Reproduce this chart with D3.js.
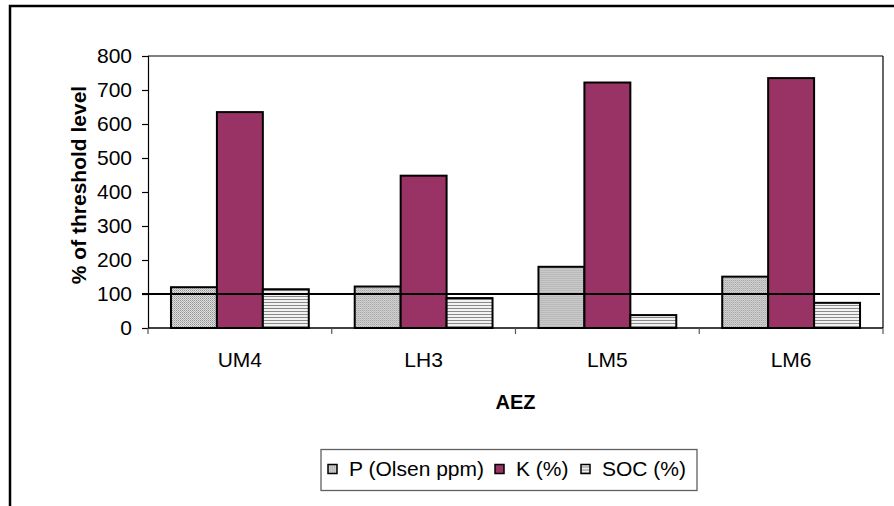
<!DOCTYPE html>
<html>
<head>
<meta charset="utf-8">
<script src="https://cdn.jsdelivr.net/npm/d3@7"></script>
<style>
  html, body { margin: 0; padding: 0; background: #fff; }
  svg { display: block; font-family: "Liberation Sans", Arial, sans-serif; }
</style>
</head>
<body>
<svg id="chart" width="894" height="506"></svg>
<script>
// Agro-ecological zones and nutrient levels as % of threshold
const categories = ["UM4", "LH3", "LM5", "LM6"];
const seriesNames = ["P (Olsen ppm)", "K (%)", "SOC (%)"];
const pValues = [120, 122, 180, 151];
const kValues = [635, 448, 722, 735];
const socValues = [114, 88, 38, 74];
const yTicks = [0, 100, 200, 300, 400, 500, 600, 700, 800];
const threshold = 100;

const seriesValues = [pValues, kValues, socValues];

const svg = d3.select("#chart");
const W = 894, H = 506;
const plot = { left: 148, right: 883, top: 56, bottom: 328 };
const FS = 21;

svg.append("rect").attr("width", W).attr("height", H).attr("fill", "#fff");

// Fill patterns
const defs = svg.append("defs");
const pPat = defs.append("pattern").attr("id", "patP")
  .attr("patternUnits", "userSpaceOnUse").attr("width", 2).attr("height", 2);
pPat.append("rect").attr("width", 2).attr("height", 2).attr("fill", "#dedede");
pPat.append("rect").attr("width", 1).attr("height", 1).attr("fill", "#939393");
pPat.append("rect").attr("x", 1).attr("y", 1).attr("width", 1).attr("height", 1).attr("fill", "#b4b4b4");

const sPat = defs.append("pattern").attr("id", "patS")
  .attr("patternUnits", "userSpaceOnUse").attr("width", 4).attr("height", 3);
sPat.append("rect").attr("width", 4).attr("height", 3).attr("fill", "#f2f2f2");
sPat.append("rect").attr("y", 2).attr("width", 4).attr("height", 1).attr("fill", "#8a8a8a");

const fills = ["url(#patP)", "#993366", "url(#patS)"];

// Outer frame (left and top edges)
svg.append("path")
  .attr("d", `M10,${H} L10,6 L${W},6`)
  .attr("fill", "none").attr("stroke", "#000").attr("stroke-width", 2.5);

// Scales
const x = d3.scaleBand().domain(categories).range([plot.left, plot.right]).paddingInner(0).paddingOuter(0);
const xs = d3.scaleBand().domain(seriesNames).range([0, x.bandwidth()]).paddingInner(0).paddingOuter(0.5);
const y = d3.scaleLinear().domain([0, 800]).range([plot.bottom, plot.top]);

// Plot area border: grey top, dark right
svg.append("line").attr("x1", plot.left).attr("x2", plot.right)
  .attr("y1", y(800)).attr("y2", y(800)).attr("stroke", "#808080").attr("stroke-width", 2);
svg.append("line").attr("x1", plot.right).attr("x2", plot.right)
  .attr("y1", y(800)).attr("y2", plot.bottom).attr("stroke", "#000").attr("stroke-width", 1.2);

// Bars
const groups = svg.append("g").selectAll("g")
  .data(categories).join("g")
  .attr("transform", d => `translate(${x(d)},0)`);

groups.selectAll("rect")
  .data((c, ci) => seriesNames.map((s, si) => ({ s, si, v: seriesValues[si][ci] })))
  .join("rect")
  .attr("x", d => xs(d.s))
  .attr("y", d => y(d.v))
  .attr("width", xs.bandwidth())
  .attr("height", d => y(0) - y(d.v))
  .attr("fill", d => fills[d.si])
  .attr("stroke", "#000").attr("stroke-width", 2);

// Y axis
const yAxis = d3.axisLeft(y).tickValues(yTicks).tickSize(6).tickPadding(10).tickFormat(d3.format("d"));
const gy = svg.append("g").attr("transform", `translate(${plot.left},0)`).call(yAxis);
gy.select(".domain").attr("stroke", "#000").attr("stroke-width", 1.2);
gy.selectAll(".tick line").attr("stroke", "#000").attr("stroke-width", 1.2);
gy.selectAll(".tick text").attr("font-size", FS).attr("fill", "#000")
  .attr("font-family", "Liberation Sans, Arial, sans-serif");

// X axis with ticks on category boundaries
const gx = svg.append("g").attr("transform", `translate(0,${plot.bottom})`);
gx.append("line").attr("x1", plot.left).attr("x2", plot.right).attr("y1", 0).attr("y2", 0)
  .attr("stroke", "#000").attr("stroke-width", 1.6);
const bounds = categories.map(c => x(c)).concat([plot.right]);
gx.selectAll(".bt").data(bounds).join("line").attr("class", "bt")
  .attr("x1", d => d).attr("x2", d => d).attr("y1", 0).attr("y2", 6)
  .attr("stroke", "#555").attr("stroke-width", 1.2);
gx.selectAll(".lab").data(categories).join("text").attr("class", "lab")
  .attr("x", d => x(d) + x.bandwidth() / 2).attr("y", 39)
  .attr("text-anchor", "middle").attr("font-size", FS).attr("fill", "#000")
  .text(d => d);

// Threshold line
svg.append("line").attr("x1", plot.left - 6).attr("x2", plot.right - 3)
  .attr("y1", y(threshold)).attr("y2", y(threshold))
  .attr("stroke", "#000").attr("stroke-width", 2);

// Axis titles
svg.append("text").attr("x", (plot.left + plot.right) / 2).attr("y", 409)
  .attr("text-anchor", "middle").attr("font-size", 20).attr("font-weight", "bold")
  .text("AEZ");
svg.append("text").attr("transform", `translate(86,${(plot.top + plot.bottom) / 2 - 7}) rotate(-90)`)
  .attr("text-anchor", "middle").attr("font-size", FS).attr("font-weight", "bold")
  .text("% of threshold level");

// Legend
const lg = svg.append("g").attr("transform", "translate(321,449.5)");
lg.append("rect").attr("width", 376).attr("height", 41)
  .attr("fill", "#fff").attr("stroke", "#606060").attr("stroke-width", 1.3);
const legendX = [7, 174, 260];
seriesNames.forEach((s, i) => {
  const it = lg.append("g").attr("transform", `translate(${legendX[i]},0)`);
  it.append("rect").attr("x", 0).attr("y", 15).attr("width", 9).attr("height", 9)
    .attr("fill", fills[i]).attr("stroke", "#000").attr("stroke-width", 1.5);
  it.append("text").attr("x", 21).attr("y", 26).attr("font-size", FS).attr("fill", "#000").text(s);
});
</script>
</body>
</html>
